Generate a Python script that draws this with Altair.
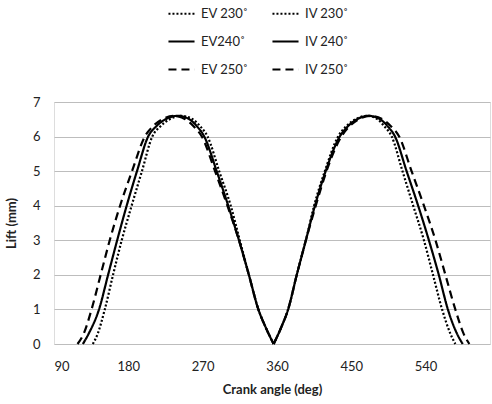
import altair as alt
import pandas as pd

# Lift levels (mm) at which the curves were read
ev_lift = [0, 0.3, 1, 2, 3, 4, 5, 6, 6.3, 6.5, 6.6, 6.5, 6.3, 6, 5, 4, 3, 2, 1, 0.5, 0]
iv_lift = [0, 0.5, 1, 2, 3, 4, 5, 6, 6.3, 6.5, 6.6, 6.5, 6.3, 6, 5, 4, 3, 2, 1, 0.3, 0]

# Crank angles (deg) for each series at those lift levels
ev230_angle = [137, 143, 151.5, 161.5, 172, 184, 196.5, 209, 219, 230, 244,
               258, 267, 276, 290, 304, 315, 326, 337.5, 346, 356]
ev240_angle = [125, 132, 144.5, 155.5, 166.5, 178, 190.5, 204, 214, 225, 240,
               254, 263, 272, 287, 301, 314, 326, 337.5, 346, 356]
ev250_angle = [118.5, 126, 135.5, 146.5, 157.5, 170, 184.5, 200, 210, 221, 235,
               249, 259, 269, 285, 300, 314, 326, 337.5, 346, 356]
iv230_angle = [356, 365.5, 373.5, 384, 395, 405, 418, 434, 444, 455, 469,
               482, 490, 499, 512, 525, 538, 549, 560, 570, 576]
iv240_angle = [356, 365.5, 373.5, 384, 395, 406, 419, 436, 446, 457, 471,
               485, 494, 503, 517, 531, 544, 556, 567, 578, 585]
iv250_angle = [356, 365.5, 373.5, 384, 395, 407, 420, 438, 448, 459, 473,
               488, 498, 508, 523, 538, 552, 564, 576, 586, 593]

# legend is filled column by column
series_names = ["EV 230˚", "EV240˚", "EV 250˚", "IV 230˚", "IV 240˚", "IV 250˚"]
dash_patterns = [[2, 2], [1, 0], [8, 5], [2, 2], [1, 0], [8, 5]]
x_ticks = [90, 180, 270, 360, 450, 540]
y_ticks = [0, 1, 2, 3, 4, 5, 6, 7]

rows = []
for name, angles, lifts in [
    ("EV 230˚", ev230_angle, ev_lift),
    ("EV240˚", ev240_angle, ev_lift),
    ("EV 250˚", ev250_angle, ev_lift),
    ("IV 230˚", iv230_angle, iv_lift),
    ("IV 240˚", iv240_angle, iv_lift),
    ("IV 250˚", iv250_angle, iv_lift),
]:
    for a, l in zip(angles, lifts):
        rows.append({"series": name, "angle": a, "lift": l})
df = pd.DataFrame(rows)

FONT = "Lato"

chart = (
    alt.Chart(df)
    .mark_line(color="black", strokeWidth=2.2, interpolate="monotone")
    .encode(
        x=alt.X(
            "angle:Q",
            scale=alt.Scale(domain=[90, 618], nice=False, zero=False),
            axis=alt.Axis(
                values=x_ticks, grid=False, ticks=False, domain=False,
                labelPadding=16, labelFontSize=13, labelFont=FONT, labelColor="#222",
                title="Crank angle (deg)", titleFont=FONT, titleFontSize=13,
                titleFontWeight="bold", titlePadding=10, titleColor="#222",
            ),
        ),
        y=alt.Y(
            "lift:Q",
            scale=alt.Scale(domain=[0, 7], nice=False),
            axis=alt.Axis(
                values=y_ticks, grid=True, gridColor="#bdbdbd", gridWidth=1,
                ticks=False, domain=False, labelPadding=14, labelFontSize=13,
                labelFont=FONT, labelColor="#222",
                title="Lift (mm)", titleFont=FONT, titleFontSize=13,
                titleFontWeight="bold", titlePadding=14, titleColor="#222",
            ),
        ),
        strokeDash=alt.StrokeDash(
            "series:N",
            scale=alt.Scale(domain=series_names, range=dash_patterns),
            legend=alt.Legend(
                title=None, orient="none", legendX=113, legendY=-103,
                columns=2, symbolType="stroke", symbolStrokeColor="black",
                symbolStrokeWidth=2, symbolSize=680, labelFont=FONT,
                labelFontSize=13, labelColor="#222", labelOffset=5,
                columnPadding=19, rowPadding=6, padding=0,
            ),
        ),
        detail="series:N",
        order="angle:Q",
    )
    .properties(
        width=436,
        height=242,
        autosize=alt.AutoSizeParams(type="none"),
        padding={"left": 54, "top": 102, "right": 2, "bottom": 60},
    )
    .configure_view(stroke="black", strokeWidth=3)
    .configure(background="white")
)

chart.save("out.html", embed_options={"renderer": "svg", "actions": False})
